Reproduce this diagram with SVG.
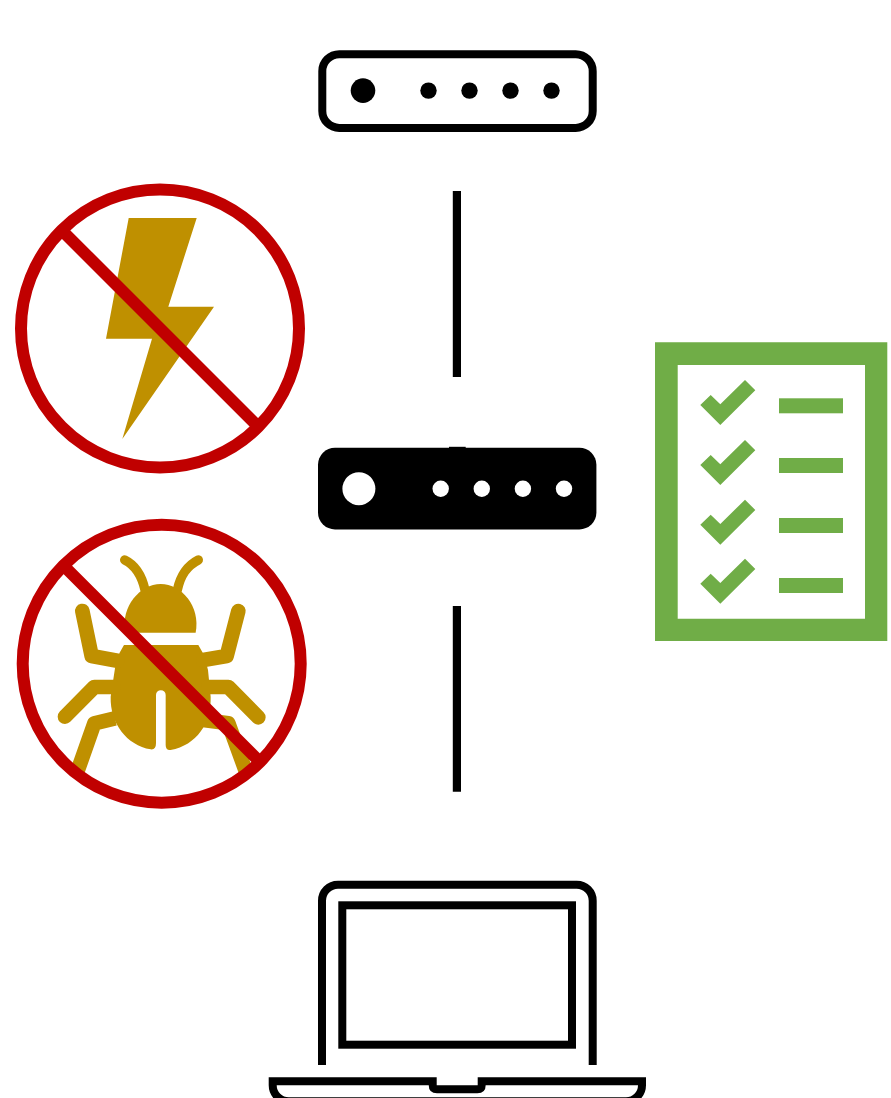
<svg xmlns="http://www.w3.org/2000/svg" width="891" height="1098" viewBox="0 0 891 1098">
<style>
.ring{fill:none;stroke:#C00000;stroke-width:12}
.slash{stroke:#C00000;stroke-width:12;fill:none}
.gold{fill:#BF9000}
.leg{fill:none;stroke:#BF9000;stroke-width:44;stroke-linejoin:round;stroke-linecap:round}
.legb{fill:none;stroke:#BF9000;stroke-width:44;stroke-linejoin:round;stroke-linecap:butt}
.ant{fill:none;stroke:#BF9000;stroke-width:28;stroke-linecap:round}
.line{stroke:#000;stroke-width:8.2;fill:none}
.outline{fill:none;stroke:#000;stroke-width:8}
.green{fill:#70AD47}
</style>
<defs>
<polygon id="check" class="green" points="700.3,405 710.7,395 720.3,404.3 745,380 755.3,390.3 720.3,425"/>
</defs>
<rect width="891" height="1098" fill="#fff"/>
<g id="connectors">
<line class="line" x1="456.9" y1="191" x2="456.9" y2="377"/>
<line class="line" x1="456.9" y1="606" x2="456.9" y2="791.7"/>
</g>
<g id="router-top">
<rect class="outline" x="322.3" y="54.200" width="270.4" height="73.700" rx="17" ry="17"/>
<circle cx="363" cy="90.600" r="12.300"/>
<circle cx="428.500" cy="90.600" r="8.200"/>
<circle cx="469.500" cy="90.600" r="8.200"/>
<circle cx="510.500" cy="90.600" r="8.200"/>
<circle cx="551.500" cy="90.600" r="8.200"/>
</g>
<g id="router-middle">
<rect x="449" y="446.800" width="16.700" height="3"/>
<rect x="318" y="447.700" width="278.400" height="81.700" rx="17" ry="17"/>
<circle cx="358.900" cy="488.700" r="16.500" fill="#fff"/>
<circle cx="440.700" cy="488.700" r="8.200" fill="#fff"/>
<circle cx="481.800" cy="488.700" r="8.200" fill="#fff"/>
<circle cx="522.900" cy="488.700" r="8.200" fill="#fff"/>
<circle cx="564" cy="488.700" r="8.200" fill="#fff"/>
</g>
<g id="laptop">
<path class="outline" d="M322 1065V900.700A16 16 0 0 1 338 884.700H576.700A16 16 0 0 1 592.700 900.700V1065"/>
<rect class="outline" x="342.300" y="905.300" width="229.700" height="139.400"/>
<path class="outline" d="M272.700 1081.300H432.700V1085Q432.700 1089.300 437 1089.300H477.400Q481.700 1089.300 481.700 1085V1081.300H642V1085.300A16 16 0 0 1 626 1101.300H288.700A16 16 0 0 1 272.700 1085.300Z"/>
</g>
<g id="no-power">
<polygon class="gold" points="128.700,218 196.700,218 168.300,306.700 214,306.700 122.300,439 152,338.700 106,338.700"/>
<circle class="ring" cx="160" cy="328.500" r="139"/>
<line class="slash" x1="61.700" y1="230.200" x2="258.300" y2="426.800"/>
</g>
<g id="no-bug">
<g transform="translate(0 510) scale(.33333)">
<path class="ant" d="M374 150C405 165 425 195 435 240"/>
<path class="ant" d="M595 150C560 168 542 195 532 240"/>
<path class="gold" d="M375 368C362 290 420 222 482 222C545 222 602 290 587 368Z"/>
<path class="gold" d="M372 405H595L612 435L624 480L632 560C634 640 590 705 512 720Q497 722 497 705V555A14.500 14.500 0 0 0 468 555V700Q468 720 452 718C380 705 330 640 332 560L345 475L358 430Z"/>
<path class="leg" d="M247 303L275 438L352 452"/>
<path class="leg" d="M715 303L680 438L610 450"/>
<path class="leg" d="M195 620L283 531H340"/>
<path class="leg" d="M775 622L685 531H625"/>
<path class="legb" d="M232 785L283 640L345 625"/>
<path class="legb" d="M738 785L685 640L610 630"/>
</g>
<circle class="ring" cx="161.700" cy="663.700" r="139"/>
<line class="slash" x1="63.400" y1="565.400" x2="260" y2="762"/>
</g>
<g id="checklist">
<path class="green" fill-rule="evenodd" d="M655 342.300H887.300V641H655ZM677.700 365V618.700H865V365Z"/>
<use href="#check"/>
<use href="#check" y="60"/>
<use href="#check" y="119.700"/>
<use href="#check" y="178.700"/>
<rect class="green" x="779" y="398.300" width="64" height="15"/>
<rect class="green" x="779" y="458" width="64" height="15"/>
<rect class="green" x="779" y="518" width="64" height="15"/>
<rect class="green" x="779" y="578" width="64" height="15"/>
</g>
</svg>
